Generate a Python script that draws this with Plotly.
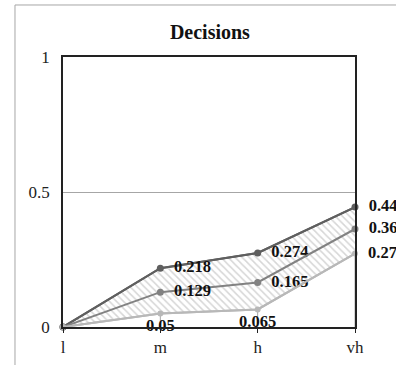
import plotly.graph_objects as go

categories = ["l", "m", "h", "vh"]
upper = [0, 0.218, 0.274, 0.444]
middle = [0, 0.129, 0.165, 0.363]
lower = [0, 0.05, 0.065, 0.272]
upper_labels = ["", "0.218", "0.274", "0.44"]
middle_labels = ["", "0.129", "0.165", "0.36"]
lower_labels = ["", "0.05", "0.065", "0.27"]
y_ticks = [0, 0.5, 1]
y_tick_text = ["0", "0.5", "1"]

FONT = "Liberation Serif, Times New Roman, serif"
C_UP = "#5f5f5f"
C_MID = "#828282"
C_LOW = "#b8b8b8"

fig = go.Figure()

# drop lines at each category from the upper value to the axis
dx, dy = [], []
for c, u in zip(categories, upper):
    dx += [c, c, None]
    dy += [u, 0, None]
fig.add_trace(go.Scatter(x=dx, y=dy, mode="lines", line=dict(color="#a8a8a8", width=1),
                         hoverinfo="skip", showlegend=False))

fig.add_trace(go.Scatter(x=categories, y=lower, mode="lines", line=dict(color=C_LOW, width=2),
                         showlegend=False, hoverinfo="skip"))
fig.add_trace(go.Scatter(x=categories, y=upper, mode="lines", line=dict(color=C_UP, width=2),
                         fill="tonexty", fillcolor="rgba(0,0,0,0)",
                         fillpattern=dict(shape="\\", fgcolor="#adadad", bgcolor="white",
                                          size=5, solidity=0.3),
                         showlegend=False, hoverinfo="skip"))

txtfont = dict(family=FONT, size=16.5, color="#111111", weight="bold")
right_tpl = "\u00a0\u00a0%{text}"
fig.add_trace(go.Scatter(x=categories, y=upper, mode="lines+markers+text", text=upper_labels,
                         texttemplate=right_tpl,
                         textposition="middle right", textfont=txtfont,
                         line=dict(color=C_UP, width=2), marker=dict(color=C_UP, size=7),
                         cliponaxis=False, showlegend=False, hoverinfo="skip"))
fig.add_trace(go.Scatter(x=categories, y=middle, mode="lines+markers+text", text=middle_labels,
                         texttemplate=right_tpl,
                         textposition="middle right", textfont=txtfont,
                         line=dict(color=C_MID, width=2), marker=dict(color=C_MID, size=7),
                         cliponaxis=False, showlegend=False, hoverinfo="skip"))
fig.add_trace(go.Scatter(x=categories, y=lower, mode="lines+markers+text", text=lower_labels,
                         texttemplate=["%{text}", "%{text}", "%{text}", right_tpl],
                         textposition=["bottom center", "bottom center", "bottom center", "middle right"],
                         textfont=txtfont,
                         line=dict(color=C_LOW, width=2), marker=dict(color=C_LOW, size=6),
                         cliponaxis=False, showlegend=False, hoverinfo="skip"))

# outer chart-area border
fig.add_shape(type="rect", xref="paper", yref="paper", x0=-0.1644, x1=1.6, y0=-0.5, y1=1.1926,
              line=dict(color="#a6a6a6", width=1), layer="below")

fig.update_layout(
    width=396, height=365,
    margin=dict(l=63, r=41, t=57, b=38),
    paper_bgcolor="white", plot_bgcolor="white",
    font=dict(family=FONT, size=17, color="#222222"),
    title=dict(text="<b>Decisions</b>", x=0.53, xanchor="center", y=0.912, yanchor="middle",
               font=dict(family=FONT, size=20, color="#111111")),
    xaxis=dict(type="category", categoryarray=categories, range=[0, 3], automargin=False,
               showgrid=False, showline=True, linecolor="#222222", linewidth=1.5, mirror=True,
               ticks="outside", ticklen=4, tickcolor="#222222", zeroline=False,
               tickfont=dict(family=FONT, size=17, color="#222222")),
    yaxis=dict(range=[0, 1], tickvals=y_ticks, ticktext=y_tick_text, automargin=False,
               showgrid=True, gridcolor="#a6a6a6", gridwidth=1,
               showline=True, linecolor="#222222", linewidth=1.5, mirror=True,
               ticks="", zeroline=False, ticklabelstandoff=8,
               tickfont=dict(family=FONT, size=17, color="#222222")),
)

fig.write_html("out.html")
